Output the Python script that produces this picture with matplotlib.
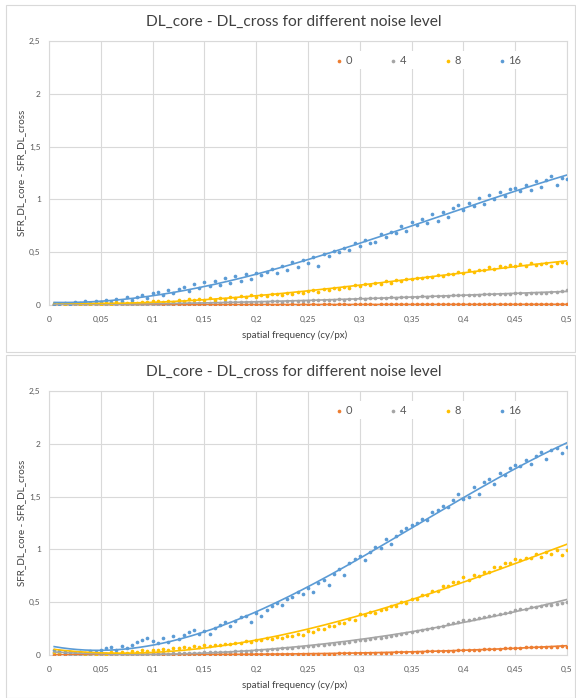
import numpy as np
import matplotlib.pyplot as plt
from matplotlib.patches import Rectangle
from matplotlib.ticker import FuncFormatter, MultipleLocator

plt.rcParams['font.family'] = ['Lato', 'DejaVu Sans']

# spatial frequency samples (cy/px)
freq = np.arange(1, 101) / 200

noise_levels = ['0', '4', '8', '16']
colors = ['#ED7D31', '#A5A5A5', '#FFC000', '#5B9BD5']
title = 'DL_core - DL_cross for different noise level'
x_label = 'spatial frequency (cy/px)'
y_label = 'SFR_DL_core - SFR_DL_cross'

# top chart values, one row per 0.05 of frequency
top_0 = [0.002, 0.003, 0.002, 0.004, 0.003, 0.002, 0.003, 0.004, 0.003, 0.002,
         0.003, 0.004, 0.003, 0.002, 0.004, 0.003, 0.003, 0.004, 0.002, 0.003,
         0.004, 0.003, 0.003, 0.004, 0.002, 0.004, 0.003, 0.004, 0.003, 0.004,
         0.003, 0.004, 0.004, 0.003, 0.005, 0.004, 0.003, 0.004, 0.005, 0.004,
         0.004, 0.005, 0.003, 0.004, 0.005, 0.004, 0.005, 0.004, 0.005, 0.004,
         0.005, 0.004, 0.005, 0.005, 0.004, 0.005, 0.006, 0.004, 0.005, 0.005,
         0.005, 0.006, 0.004, 0.005, 0.006, 0.005, 0.005, 0.006, 0.005, 0.006,
         0.005, 0.006, 0.005, 0.006, 0.006, 0.005, 0.006, 0.005, 0.006, 0.006,
         0.006, 0.005, 0.006, 0.007, 0.006, 0.005, 0.006, 0.007, 0.006, 0.006,
         0.007, 0.006, 0.006, 0.007, 0.006, 0.007, 0.006, 0.007, 0.007, 0.006]
top_4 = [0.004, 0.006, 0.003, 0.005, 0.007, 0.004, 0.006, 0.008, 0.005, 0.007,
         0.008, 0.006, 0.009, 0.011, 0.008, 0.010, 0.012, 0.009, 0.011, 0.013,
         0.012, 0.015, 0.013, 0.016, 0.018, 0.015, 0.020, 0.017, 0.019, 0.021,
         0.020, 0.024, 0.022, 0.025, 0.027, 0.024, 0.029, 0.026, 0.031, 0.030,
         0.032, 0.029, 0.034, 0.036, 0.033, 0.038, 0.035, 0.040, 0.037, 0.041,
         0.043, 0.046, 0.044, 0.050, 0.048, 0.053, 0.051, 0.056, 0.060, 0.062,
         0.060, 0.065, 0.063, 0.068, 0.066, 0.072, 0.070, 0.074, 0.078, 0.080,
         0.077, 0.082, 0.079, 0.085, 0.083, 0.088, 0.086, 0.090, 0.093, 0.095,
         0.092, 0.098, 0.096, 0.100, 0.103, 0.100, 0.105, 0.108, 0.106, 0.110,
         0.112, 0.108, 0.115, 0.113, 0.118, 0.116, 0.120, 0.125, 0.130, 0.140]
top_8 = [0.010, 0.014, 0.006, 0.013, 0.016, 0.008, 0.018, 0.011, 0.020, 0.014,
         0.020, 0.013, 0.024, 0.020, 0.016, 0.028, 0.021, 0.032, 0.024, 0.034,
         0.036, 0.028, 0.042, 0.033, 0.048, 0.038, 0.054, 0.043, 0.058, 0.050,
         0.062, 0.050, 0.070, 0.058, 0.080, 0.066, 0.085, 0.074, 0.090, 0.080,
         0.095, 0.084, 0.100, 0.106, 0.092, 0.114, 0.106, 0.124, 0.118, 0.134,
         0.140, 0.122, 0.148, 0.142, 0.162, 0.152, 0.172, 0.162, 0.186, 0.182,
         0.198, 0.190, 0.206, 0.200, 0.226, 0.208, 0.236, 0.228, 0.248, 0.242,
         0.260, 0.252, 0.266, 0.262, 0.288, 0.270, 0.296, 0.292, 0.312, 0.305,
         0.328, 0.310, 0.336, 0.332, 0.356, 0.338, 0.368, 0.362, 0.382, 0.372,
         0.390, 0.368, 0.396, 0.376, 0.392, 0.400, 0.365, 0.395, 0.408, 0.398]
top_16 = [0.012, 0.006, 0.018, 0.010, 0.024, 0.015, 0.035, 0.020, 0.040, 0.026,
          0.045, 0.028, 0.055, 0.040, 0.072, 0.050, 0.080, 0.095, 0.070, 0.110,
          0.125, 0.090, 0.140, 0.110, 0.150, 0.175, 0.135, 0.200, 0.165, 0.215,
          0.180, 0.225, 0.190, 0.260, 0.205, 0.275, 0.225, 0.290, 0.245, 0.305,
          0.280, 0.310, 0.345, 0.300, 0.370, 0.330, 0.410, 0.360, 0.430, 0.395,
          0.450, 0.370, 0.485, 0.465, 0.510, 0.500, 0.540, 0.525, 0.590, 0.560,
          0.620, 0.585, 0.600, 0.670, 0.640, 0.690, 0.685, 0.745, 0.700, 0.785,
          0.760, 0.815, 0.775, 0.860, 0.800, 0.885, 0.830, 0.920, 0.945, 0.900,
          0.965, 0.940, 1.010, 0.960, 1.040, 1.005, 1.070, 1.030, 1.095, 1.110,
          1.075, 1.140, 1.085, 1.170, 1.120, 1.180, 1.220, 1.140, 1.200, 1.190]

# bottom chart values
bot_0 = [0.002, 0.001, 0.002, 0.001, 0.002, 0.002, 0.001, 0.002, 0.002, 0.002,
         0.002, 0.003, 0.002, 0.003, 0.002, 0.003, 0.003, 0.002, 0.003, 0.003,
         0.003, 0.004, 0.003, 0.004, 0.004, 0.005, 0.004, 0.005, 0.005, 0.006,
         0.005, 0.006, 0.006, 0.007, 0.006, 0.007, 0.008, 0.007, 0.008, 0.008,
         0.008, 0.009, 0.009, 0.010, 0.010, 0.011, 0.010, 0.011, 0.012, 0.012,
         0.012, 0.013, 0.013, 0.014, 0.014, 0.015, 0.015, 0.016, 0.016, 0.017,
         0.018, 0.019, 0.020, 0.021, 0.022, 0.023, 0.024, 0.026, 0.028, 0.030,
         0.031, 0.032, 0.034, 0.035, 0.037, 0.038, 0.040, 0.041, 0.043, 0.045,
         0.047, 0.049, 0.051, 0.053, 0.055, 0.058, 0.060, 0.062, 0.065, 0.070,
         0.071, 0.072, 0.074, 0.075, 0.076, 0.077, 0.078, 0.080, 0.081, 0.078]
bot_4 = [0.020, 0.018, 0.015, 0.014, 0.012, 0.013, 0.010, 0.011, 0.009, 0.010,
         0.010, 0.011, 0.009, 0.012, 0.010, 0.013, 0.011, 0.012, 0.014, 0.012,
         0.013, 0.015, 0.014, 0.017, 0.016, 0.019, 0.018, 0.021, 0.023, 0.025,
         0.026, 0.028, 0.027, 0.031, 0.033, 0.035, 0.034, 0.039, 0.042, 0.047,
         0.049, 0.052, 0.055, 0.058, 0.062, 0.066, 0.070, 0.074, 0.079, 0.085,
         0.088, 0.090, 0.095, 0.100, 0.104, 0.110, 0.115, 0.122, 0.130, 0.140,
         0.145, 0.150, 0.158, 0.165, 0.172, 0.180, 0.188, 0.196, 0.210, 0.220,
         0.230, 0.240, 0.245, 0.255, 0.265, 0.275, 0.290, 0.300, 0.310, 0.330,
         0.335, 0.340, 0.350, 0.360, 0.370, 0.380, 0.390, 0.400, 0.410, 0.430,
         0.435, 0.440, 0.450, 0.455, 0.460, 0.470, 0.475, 0.480, 0.490, 0.500]
bot_8 = [0.030, 0.022, 0.026, 0.030, 0.015, 0.025, 0.012, 0.022, 0.010, 0.018,
         0.012, 0.024, 0.015, 0.030, 0.020, 0.034, 0.030, 0.046, 0.034, 0.052,
         0.045, 0.060, 0.052, 0.066, 0.062, 0.074, 0.066, 0.088, 0.072, 0.090,
         0.085, 0.096, 0.090, 0.108, 0.102, 0.112, 0.115, 0.132, 0.124, 0.145,
         0.140, 0.158, 0.152, 0.166, 0.162, 0.182, 0.178, 0.198, 0.192, 0.225,
         0.222, 0.248, 0.242, 0.270, 0.272, 0.300, 0.302, 0.340, 0.336, 0.385,
         0.380, 0.410, 0.400, 0.430, 0.432, 0.462, 0.462, 0.500, 0.492, 0.530,
         0.532, 0.570, 0.568, 0.610, 0.608, 0.650, 0.652, 0.690, 0.690, 0.735,
         0.710, 0.760, 0.750, 0.790, 0.790, 0.830, 0.830, 0.870, 0.870, 0.910,
         0.900, 0.915, 0.920, 0.960, 0.930, 0.975, 0.960, 0.995, 0.950, 0.990]
bot_16 = [0.045, 0.038, 0.030, 0.032, 0.020, 0.030, 0.018, 0.040, 0.028, 0.050,
          0.065, 0.075, 0.050, 0.085, 0.065, 0.090, 0.120, 0.140, 0.160, 0.130,
          0.110, 0.160, 0.120, 0.180, 0.150, 0.190, 0.220, 0.240, 0.200, 0.230,
          0.200, 0.260, 0.280, 0.310, 0.270, 0.320, 0.360, 0.370, 0.310, 0.400,
          0.370, 0.430, 0.460, 0.490, 0.470, 0.530, 0.550, 0.600, 0.580, 0.630,
          0.600, 0.680, 0.710, 0.660, 0.770, 0.810, 0.760, 0.870, 0.910, 0.940,
          0.900, 0.980, 1.020, 1.010, 1.100, 1.050, 1.130, 1.170, 1.200, 1.230,
          1.250, 1.290, 1.280, 1.350, 1.370, 1.410, 1.400, 1.470, 1.520, 1.480,
          1.500, 1.590, 1.520, 1.640, 1.670, 1.620, 1.720, 1.700, 1.770, 1.800,
          1.790, 1.850, 1.810, 1.880, 1.920, 1.860, 1.940, 1.960, 1.910, 1.970]

charts = [[top_0, top_4, top_8, top_16], [bot_0, bot_4, bot_8, bot_16]]

W, H = 576, 698
fig = plt.figure(figsize=(W / 100, H / 100), dpi=100)


def fx(px):
    return px / W


def fy(py):
    return 1 - py / H


def comma(v, pos):
    return f'{v:g}'.replace('.', ',')


# pixel layout of each chart box: (box top, box bottom, plot top)
boxes = [(5, 352, 41), (355, 698, 391)]

for (box_top, box_bot, plot_top), series in zip(boxes, charts):
    fig.patches.append(Rectangle((fx(6), fy(box_bot)), 569 / W, (box_bot - box_top) / H,
                                 transform=fig.transFigure, fill=False,
                                 ec='#D9D9D9', lw=0.8))
    plot_bot = plot_top + 264
    ax = fig.add_axes([fx(49), fy(plot_bot), 518 / W, 264 / H])

    for vals, name, c in zip(series, noise_levels, colors):
        ax.scatter(freq, vals, s=7, color=c, lw=0, zorder=3, label=name)
    # polynomial trendlines like in excel
    xs = np.linspace(freq[0], freq[-1], 200)
    for vals, c in zip(series, colors):
        coef = np.polyfit(freq, vals, 3)
        ax.plot(xs, np.polyval(coef, xs), color=c, lw=1.2, zorder=4)

    ax.set_xlim(0, 0.5)
    ax.set_ylim(0, 2.5)
    ax.xaxis.set_major_locator(MultipleLocator(0.05))
    ax.yaxis.set_major_locator(MultipleLocator(0.5))
    ax.xaxis.set_major_formatter(FuncFormatter(comma))
    ax.yaxis.set_major_formatter(FuncFormatter(comma))
    ax.tick_params(length=0, labelsize=6, labelcolor='#595959')
    ax.tick_params(axis='x', pad=8)
    ax.tick_params(axis='y', pad=6)
    ax.grid(color='#D9D9D9', lw=0.8)
    ax.set_axisbelow(True)
    for sp in ax.spines.values():
        sp.set_color('#D9D9D9')
        sp.set_linewidth(0.8)

    leg = ax.legend(loc='center', bbox_to_anchor=(0.7317, 0.928), ncol=4,
                    frameon=True, facecolor='white', edgecolor='none', framealpha=1,
                    fontsize=8, handletextpad=0.2, columnspacing=3.3,
                    handlelength=0.8, markerscale=1.0, borderpad=0.3,
                    labelcolor='#595959')
    leg.set_zorder(5)

    fig.text(fx(294), fy(box_top + 17), title, ha='center', va='center',
             fontsize=11.2, color='#404040')
    fig.text(fx(295), fy(plot_bot + 30), x_label, ha='center', va='center',
             fontsize=7, color='#404040')
    fig.text(fx(22), fy(plot_top + 132), y_label, ha='center', va='center',
             rotation=90, fontsize=7, color='#404040')

fig.savefig('out.png', dpi=100, facecolor='white')
